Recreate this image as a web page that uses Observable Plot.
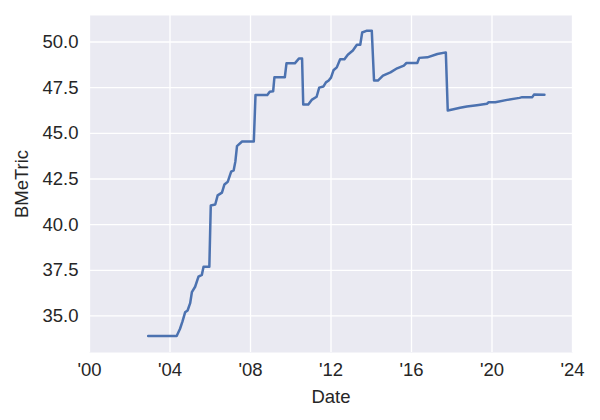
<!DOCTYPE html>
<html>
<head>
<meta charset="utf-8">
<script src="https://cdn.jsdelivr.net/npm/d3@7"></script>
<script src="https://cdn.jsdelivr.net/npm/@observablehq/plot@0.6"></script>
<style>
  html, body { margin: 0; padding: 0; background: #ffffff; }
  #chart svg { display: block; }
</style>
</head>
<body>
<div id="chart"></div>
<script>
const dates = [
  "2002-12-01","2004-05-01","2004-07-01","2004-08-15","2004-10-01","2004-11-15",
  "2005-01-01","2005-02-01","2005-04-01","2005-06-01","2005-08-01","2005-09-01",
  "2005-12-15","2006-01-10","2006-04-01","2006-05-15","2006-08-01","2006-09-15",
  "2006-11-15","2007-01-15","2007-03-01","2007-04-01","2007-05-01","2007-08-01",
  "2008-03-01","2008-04-01","2008-11-01","2008-12-15","2009-02-15","2009-03-10",
  "2009-09-15","2009-10-15","2010-03-15","2010-06-01","2010-07-25","2010-08-15",
  "2010-11-15","2011-01-15","2011-04-15","2011-06-01","2011-08-15","2011-10-01",
  "2011-11-20","2012-01-01","2012-02-15","2012-04-15","2012-06-15","2012-09-01",
  "2012-11-01","2013-02-01","2013-04-15","2013-06-15","2013-07-20","2013-10-15",
  "2014-01-10","2014-02-20","2014-05-01","2014-08-01","2014-12-15","2015-04-15",
  "2015-08-15","2015-10-01","2016-04-15","2016-05-20","2016-10-15","2017-04-15",
  "2017-09-15","2017-10-20","2018-02-01","2018-06-01","2018-10-01","2019-04-01",
  "2019-10-01","2019-11-01","2020-03-01","2020-10-01","2021-05-15","2021-07-01",
  "2022-01-01","2022-02-01","2022-08-10"
];
const values = [
  33.9, 33.9, 34.3, 34.7, 35.2, 35.3,
  35.7, 36.3, 36.6, 37.15, 37.25, 37.7,
  37.7, 41.05, 41.1, 41.6, 41.75, 42.2,
  42.35, 42.9, 42.97, 43.45, 44.3, 44.55,
  44.55, 47.1, 47.1, 47.28, 47.3, 48.07,
  48.07, 48.83, 48.83, 49.1, 49.1, 46.58,
  46.58, 46.83, 47.0, 47.5, 47.56, 47.79,
  47.89, 48.05, 48.45, 48.61, 49.05, 49.05,
  49.3, 49.53, 49.85, 49.85, 50.52, 50.62,
  50.62, 47.89, 47.89, 48.16, 48.34, 48.56,
  48.71, 48.85, 48.85, 49.13, 49.16, 49.34,
  49.43, 46.25, 46.32, 46.40, 46.47, 46.54,
  46.62, 46.70, 46.70, 46.83, 46.94, 46.98,
  46.98, 47.12, 47.11
];
const yTicks = [35.0, 37.5, 40.0, 42.5, 45.0, 47.5, 50.0];
const xTickYears = [2000, 2004, 2008, 2012, 2016, 2020, 2024];

const data = dates.map((d, i) => ({date: new Date(d + "T00:00:00Z"), value: values[i]}));
const xTicks = xTickYears.map(y => new Date(Date.UTC(y, 0, 1)));

const textColor = "#262626";
const chart = Plot.plot({
  width: 600,
  height: 420,
  marginLeft: 89,
  marginRight: 28,
  marginTop: 15,
  marginBottom: 68,
  style: {
    fontFamily: "'Liberation Sans', Arial, sans-serif",
    fontSize: "18.5px",
    color: textColor,
    background: "#ffffff"
  },
  x: {type: "utc", domain: [new Date(Date.UTC(2000,0,1)), new Date(Date.UTC(2024,0,1))]},
  y: {domain: [33.0, 51.45]},
  marks: [
    Plot.frame({fill: "#EAEAF2", stroke: null}),
    Plot.gridX(xTicks, {stroke: "#ffffff", strokeOpacity: 1, strokeWidth: 1.3}),
    Plot.gridY(yTicks, {stroke: "#ffffff", strokeOpacity: 1, strokeWidth: 1.3}),
    Plot.axisX(xTicks, {
      tickSize: 0, tickPadding: 10,
      tickFormat: d => "'" + String(d.getUTCFullYear() % 100).padStart(2, "0"),
      label: "Date", labelAnchor: "center", labelArrow: "none", labelOffset: 50,
      fill: textColor
    }),
    Plot.axisY(yTicks, {
      tickSize: 0, tickPadding: 11,
      tickFormat: d => d.toFixed(1),
      label: "BMeTric", labelAnchor: "center", labelArrow: "none", labelOffset: 75,
      fill: textColor
    }),
    Plot.line(data, {x: "date", y: "value", stroke: "#4C72B0", strokeWidth: 2.5, strokeLinejoin: "round", strokeLinecap: "round"})
  ]
});
document.getElementById("chart").appendChild(chart);
</script>
</body>
</html>
